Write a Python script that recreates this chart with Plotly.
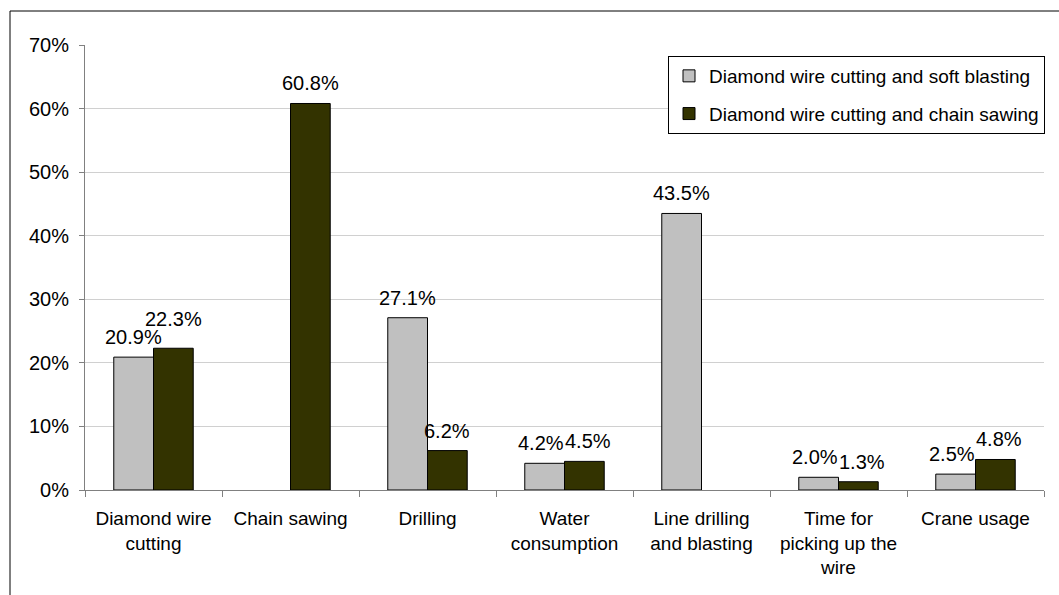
import plotly.graph_objects as go

categories = ["Diamond wire<br>cutting", "Chain sawing", "Drilling", "Water<br>consumption",
              "Line drilling<br>and blasting", "Time for<br>picking up the<br>wire", "Crane usage"]
series1_name = "Diamond wire cutting and soft blasting"
series2_name = "Diamond wire cutting and chain sawing"
series1 = [0.209, None, 0.271, 0.042, 0.435, 0.020, 0.025]
series2 = [0.223, 0.608, 0.062, 0.045, None, 0.013, 0.048]
ytickvals = [0, 0.1, 0.2, 0.3, 0.4, 0.5, 0.6, 0.7]

FONT = "Liberation Sans, Arial, sans-serif"
W, H = 1059, 595
L, R, T, B = 85, 15, 45, 105
pw, ph = W - L - R, H - T - B
BARGAP = 0.42
YMAX = 0.7
LABEL_SIZE = 20

def px_x(px):
    return (px - L) / pw

def px_y(py):
    return (H - B - py) / ph

def fmt(v):
    return f"{v*100:.1f}%"

def text_width(s, size):
    em = {"%": 0.889, ".": 0.278}
    return sum(em.get(c, 0.556) for c in s) * size

fig = go.Figure()
fig.add_trace(go.Bar(
    x=categories, y=series1, name=series1_name, legendgroup="a",
    marker=dict(color="#C0C0C0", line=dict(color="#000000", width=1)),
))
fig.add_trace(go.Bar(
    x=categories, y=series2, name=series2_name, legendgroup="b",
    marker=dict(color="#333300", line=dict(color="#000000", width=1)),
))

# data labels placed above each bar (offset to the bar of its series within the group)
bar_px = pw / len(categories) * (1 - BARGAP) / 2
label_gap = 7
extra_lift = {(1, 0): 9}  # the reference lifts this label clear of its neighbour
annotations = []
for ci in range(len(categories)):
    vals = [series1[ci], series2[ci]]
    spread = 0.0
    if vals[0] is not None and vals[1] is not None:
        lift = [extra_lift.get((s, ci), 0) for s in range(2)]
        dy = abs((vals[0] - vals[1]) * ph / YMAX + lift[0] - lift[1])
        if dy < 16:
            need = (text_width(fmt(vals[0]), LABEL_SIZE) + text_width(fmt(vals[1]), LABEL_SIZE)) / 2 + 1
            spread = max(0.0, need - bar_px) / 2
    for si, v in enumerate(vals):
        if v is None:
            continue
        annotations.append(dict(
            x=categories[ci], y=v, xref="x", yref="y",
            text=fmt(v), showarrow=False,
            xanchor="center", yanchor="bottom",
            xshift=(si - 0.5) * bar_px + (spread if si == 1 else -spread),
            yshift=label_gap + extra_lift.get((si, ci), 0),
            font=dict(size=LABEL_SIZE, color="#000000", family=FONT),
        ))

fig.update_layout(
    width=W, height=H,
    margin=dict(l=L, r=R, t=T, b=B),
    paper_bgcolor="white", plot_bgcolor="white",
    barmode="group", bargap=BARGAP, bargroupgap=0,
    font=dict(family=FONT, size=19, color="#000000"),
    showlegend=True,
    annotations=annotations,
    legend=dict(
        x=px_x(668), y=px_y(56), xanchor="left", yanchor="top",
        bordercolor="#000000", borderwidth=1, bgcolor="white",
        font=dict(size=19, family=FONT, color="#000000"),
        traceorder="grouped", tracegroupgap=10,
    ),
    xaxis=dict(
        type="category", showline=True, linecolor="#808080", linewidth=1,
        ticks="outside", ticklen=6, tickcolor="#808080", tickson="boundaries",
        showgrid=False, tickfont=dict(size=19, family=FONT, color="#000000"),
        ticklabelstandoff=11, tickangle=0,
    ),
    yaxis=dict(
        range=[0, YMAX], tickvals=ytickvals, tickformat=".0%",
        showline=True, linecolor="#808080", linewidth=1,
        ticks="outside", ticklen=5, tickcolor="#808080",
        showgrid=True, gridcolor="#D0D0D0", gridwidth=1,
        zeroline=False, tickfont=dict(size=20, family=FONT, color="#000000"),
        ticklabelstandoff=6,
    ),
    shapes=[dict(type="rect", xref="paper", yref="paper",
                 x0=px_x(10), x1=px_x(1070), y0=px_y(610), y1=px_y(11),
                 line=dict(color="#000000", width=1), fillcolor="rgba(0,0,0,0)",
                 layer="below")],
)

fig.write_html("out.html")
